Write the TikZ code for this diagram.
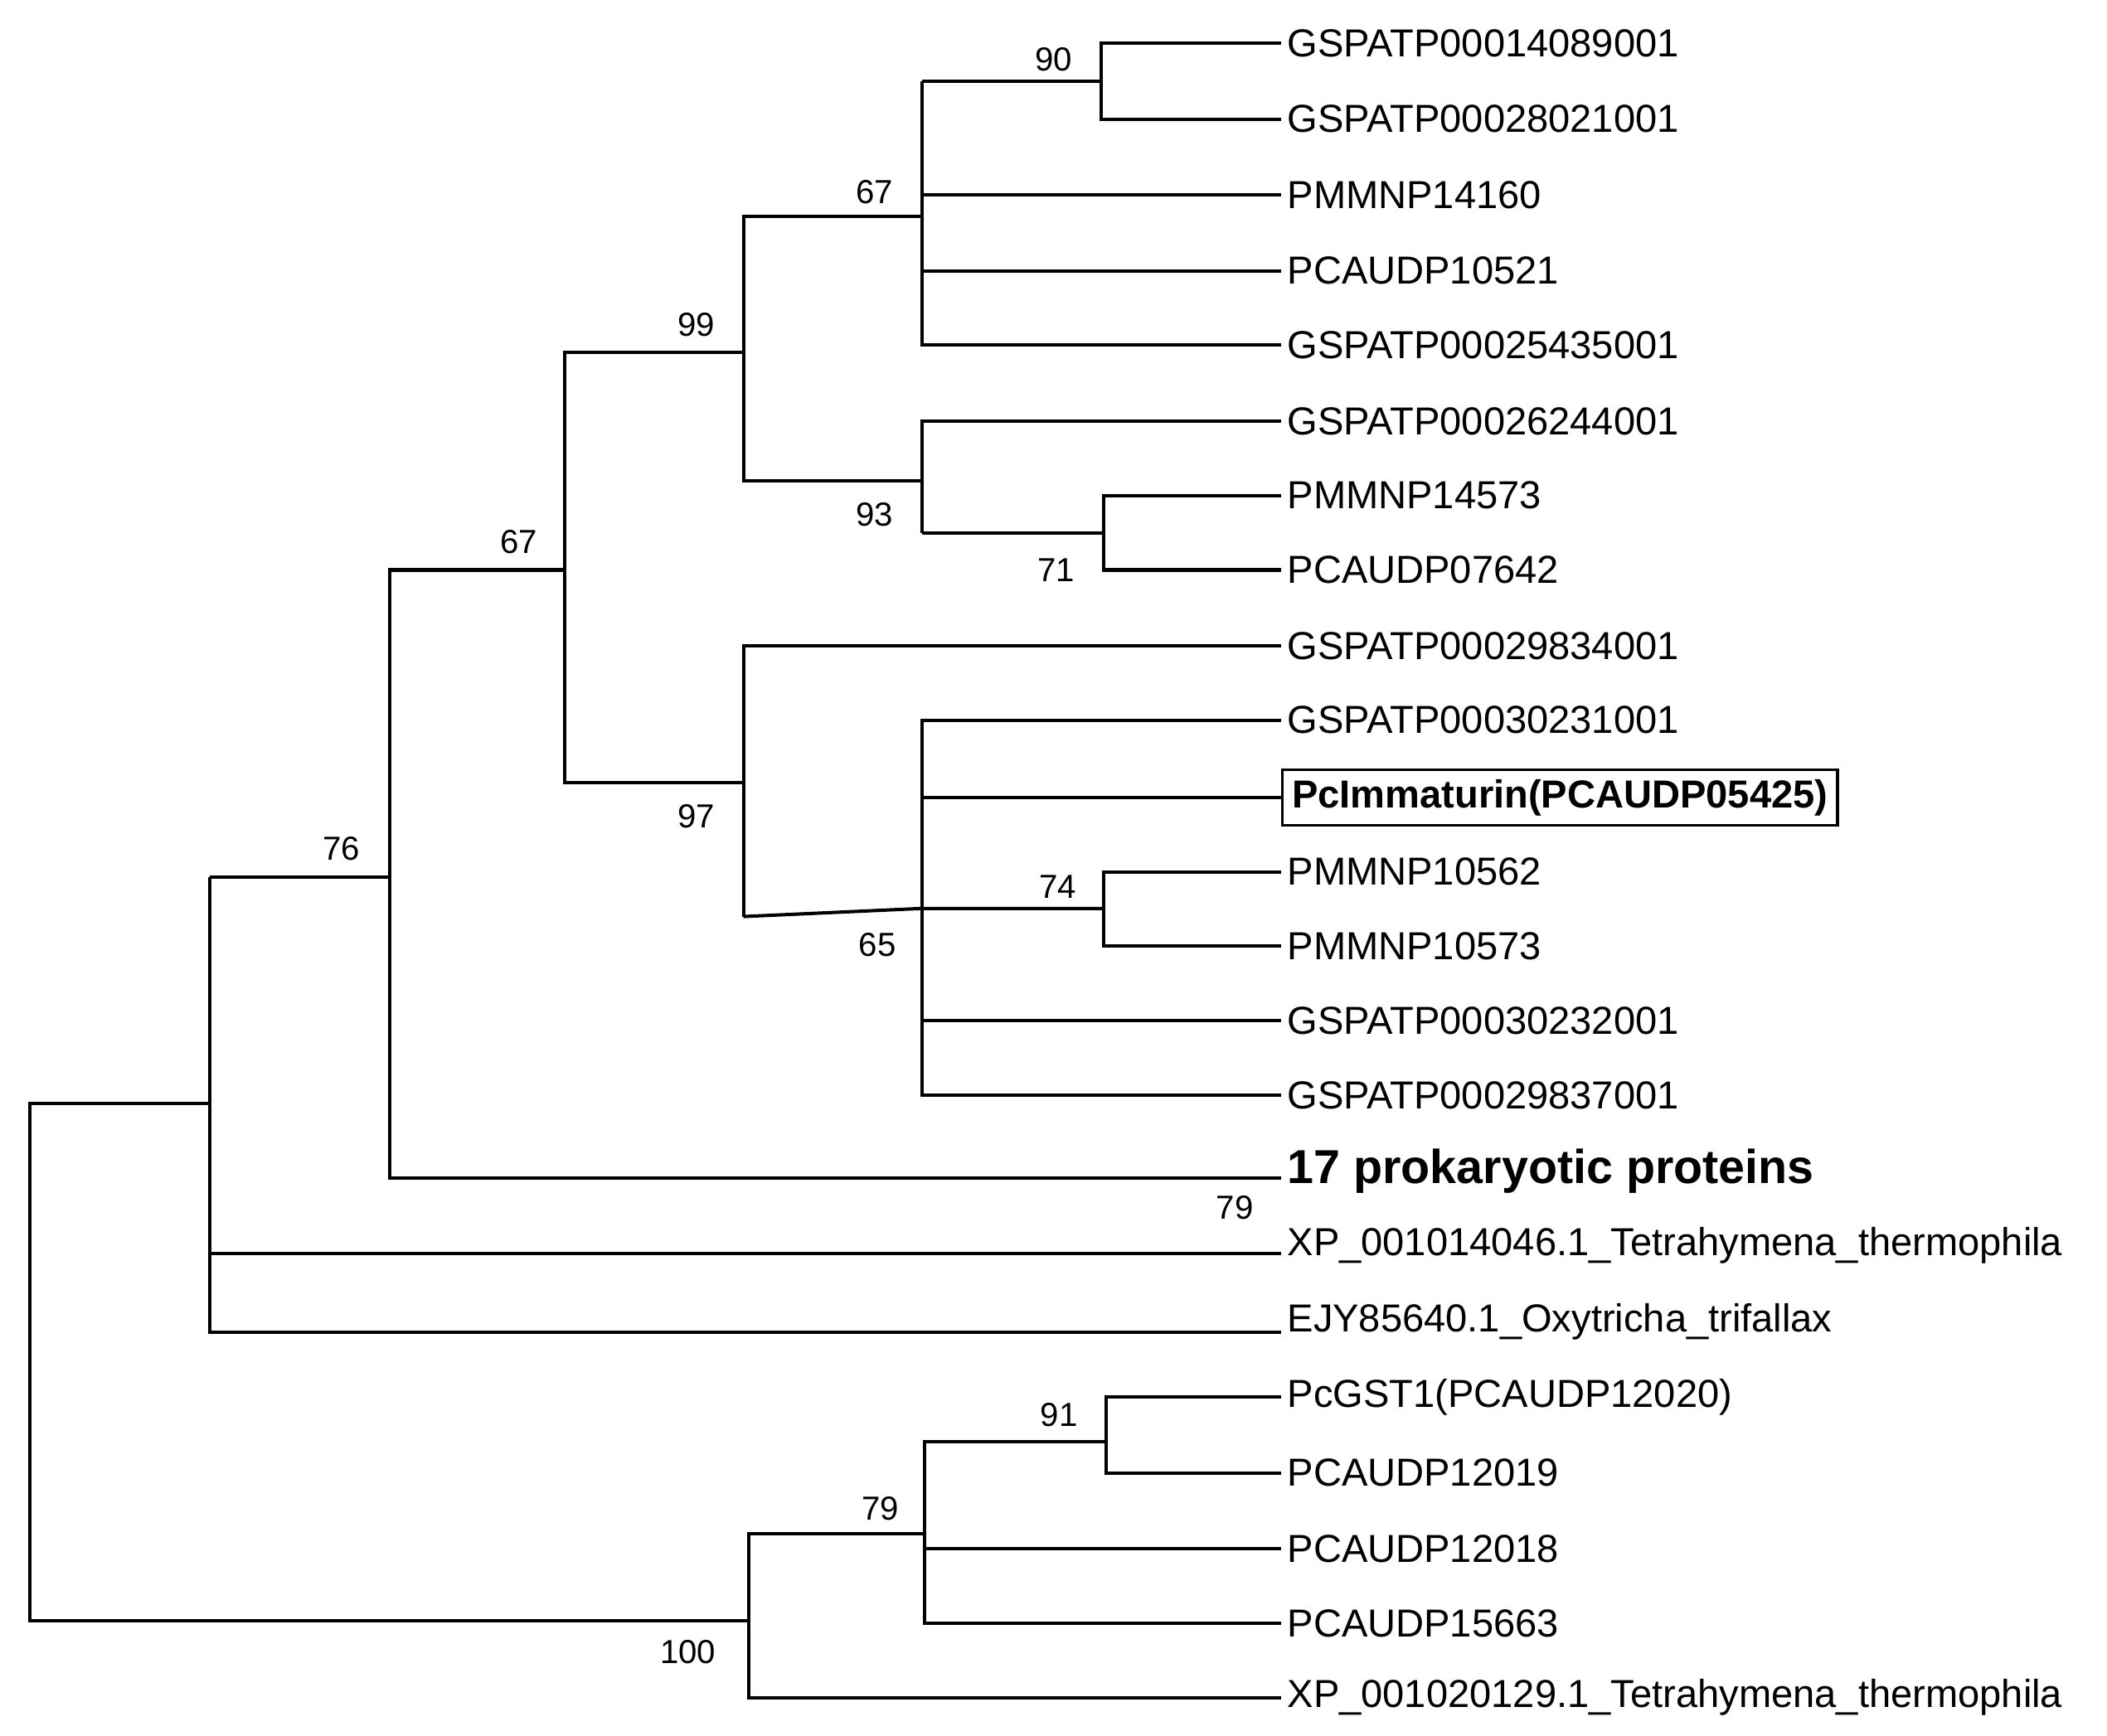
\documentclass[tikz,border=0pt]{standalone}
\usepackage{fontspec}
\setmainfont{Liberation Sans}
\begin{document}
\begin{tikzpicture}[x=0.01cm,y=-0.01cm,line width=0.7pt,
  leaf/.style={anchor=west,inner sep=1pt,font=\fontsize{8.2}{9}\selectfont},
  bs/.style={font=\fontsize{7}{8}\selectfont,inner sep=0pt}]
\useasboundingbox (0,0) rectangle (1556,1282);
% leaves
\foreach \n/\y/\t in {l1/32/GSPATP00014089001,l2/88/GSPATP00028021001,l3/144/PMMNP14160,l4/200/PCAUDP10521,l5/255/GSPATP00025435001,l6/311/GSPATP00026244001,l7/366/PMMNP14573,l8/421/PCAUDP07642,l9/477/GSPATP00029834001,l10/532/GSPATP00030231001,l12/644/PMMNP10562,l13/699/PMMNP10573,l14/754/GSPATP00030232001,l15/809/GSPATP00029837001,l17/920/XP\_001014046.1\_Tetrahymena\_thermophila,l18/976/EJY85640.1\_Oxytricha\_trifallax,l19/1032/PcGST1(PCAUDP12020),l20/1088/PCAUDP12019,l21/1144/PCAUDP12018,l22/1199/PCAUDP15663,l23/1254/XP\_001020129.1\_Tetrahymena\_thermophila}
  \node[leaf] (\n) at (946,\y) {\t};
\node[leaf,draw,line width=0.6pt,inner sep=2pt,font=\fontsize{8.2}{9}\selectfont\bfseries] (l11) at (946,589) {PcImmaturin(PCAUDP05425)};
\node[leaf,font=\fontsize{10}{11}\selectfont\bfseries] (l16) at (946,865) {17 prokaryotic proteins};
% internal coordinates
\coordinate (a90) at (813,60);
\coordinate (a67) at (681,160);
\coordinate (a71) at (815,394);
\coordinate (a93) at (681,355);
\coordinate (a99) at (549,260);
\coordinate (a74) at (815,671);
\coordinate (a65) at (681,677);
\coordinate (a97) at (549,578);
\coordinate (b67) at (417,421);
\coordinate (a76) at (288,648);
\coordinate (a155) at (155,815);
\coordinate (a91) at (817,1060);
\coordinate (a79) at (683,1133);
\coordinate (a100) at (553,1197);
\coordinate (root) at (22,1197);
% branches
\draw (l1.west) -| (a90) |- (l2.west);
\draw (a90) -- (a90 -| a67);
\draw (a90 -| a67) -- (a67 |- l5) -- (l5.west);
\draw (a67 |- l3) -- (l3.west);
\draw (a67 |- l4) -- (l4.west);
\draw (l7.west) -| (a71) |- (l8.west);
\draw (a71) -- (a71 -| a93);
\draw (l6.west) -| (a93) -- (a93 |- a71);
\draw (a67) -- (a67 -| a99) -- (a99 |- a93) -- (a93);
\draw (l12.west) -| (a74) |- (l13.west);
\draw (a97 |- a65) -- (a65 |- a74) -- (a74);
\draw (l10.west) -| (a65) -- (a65 |- l15) -- (l15.west);
\draw (a65 |- l11) -- (l11.west);
\draw (a65 |- l14) -- (l14.west);
\draw (l9.west) -| (a97) -- (a97 |- a65);
\draw (a99) -- (a99 -| b67) -- (b67 |- a97) -- (a97);
\draw (b67) -- (b67 -| a76) -- (a76 |- 0,870) -- (l16.west |- 0,870);
\draw (a76) -- (a76 -| a155);
\draw (a76 -| a155) -- (a155 |- 0,984) -- (l18.west |- 0,984);
\draw (a155 |- 0,926) -- (l17.west |- 0,926);
\draw (l19.west) -| (a91) |- (l20.west);
\draw (a91 |- 0,1065) -- (a79 |- 0,1065) -- (a79 |- l22) -- (l22.west);
\draw (a79 |- l21) -- (l21.west);
\draw (a79) -- (a100 |- a79) -- (a100 |- l23) -- (l23.west);
\draw (a155) -- (a155 -| root) -- (root) -- (a100);
% bootstrap labels
\node[bs] at (778,44) {90};
\node[bs] at (646,142) {67};
\node[bs] at (780,421) {71};
\node[bs] at (646,380) {93};
\node[bs] at (514,240) {99};
\node[bs] at (781,655) {74};
\node[bs] at (648,698) {65};
\node[bs] at (514,603) {97};
\node[bs] at (383,400) {67};
\node[bs] at (252,627) {76};
\node[bs] at (912,892) {79};
\node[bs] at (782,1045) {91};
\node[bs] at (650,1114) {79};
\node[bs] at (508,1220) {100};
\end{tikzpicture}
\end{document}
